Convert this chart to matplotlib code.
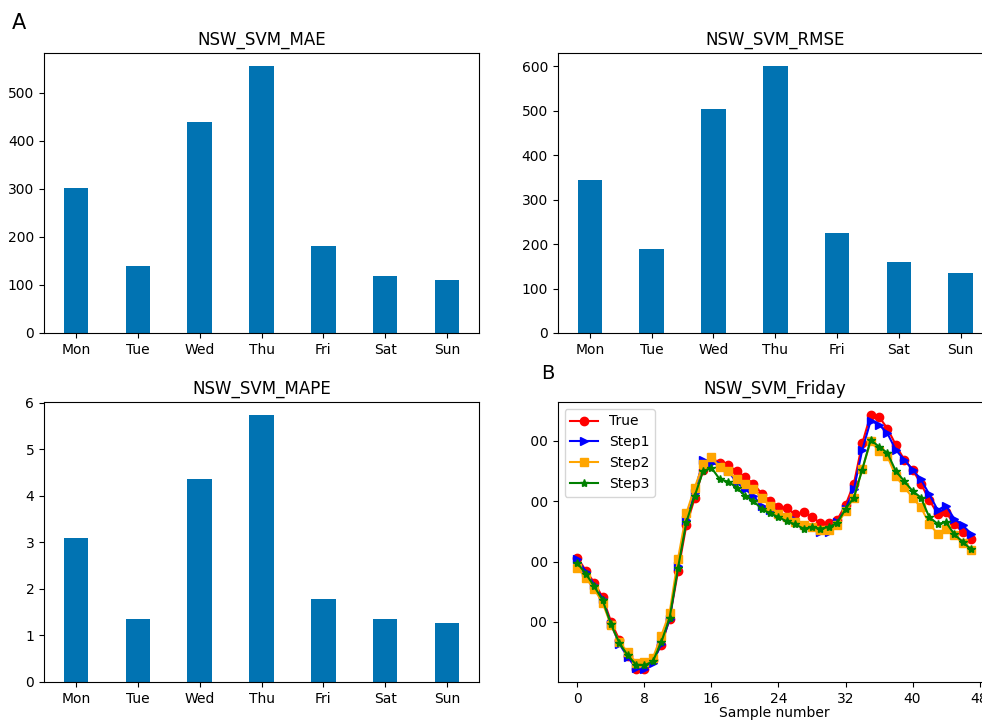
import matplotlib
matplotlib.use('Agg')
import matplotlib.pyplot as plt
from matplotlib.patches import Rectangle

# 星期
days = ['Mon', 'Tue', 'Wed', 'Thu', 'Fri', 'Sat', 'Sun']

# 每天的誤差
mae = [302, 139, 439, 555, 182, 118, 110]
rmse = [345, 188, 504, 600, 226, 159, 134]
mape = [3.10, 1.36, 4.37, 5.73, 1.78, 1.36, 1.26]

# 週五的負載曲線 (48 個樣本)
true_load = [8063, 7850, 7650, 7410, 7005, 6700, 6440, 6225, 6225, 6360,
             6610, 7045, 7835, 8600, 9050, 9525, 9690, 9635, 9595, 9500,
             9400, 9290, 9125, 9005, 8910, 8880, 8780, 8815, 8735, 8640,
             8635, 8690, 8935, 9290, 9960, 10435, 10400, 10205, 9935, 9690,
             9525, 9290, 9020, 8790, 8815, 8615, 8490, 8380]
step1 = [8036, 7834, 7616, 7381, 6961, 6634, 6416, 6236, 6214, 6323,
         6634, 7043, 7927, 8680, 9143, 9690, 9634, 9607, 9500, 9310,
         9200, 9090, 8925, 8850, 8800, 8730, 8680, 8600, 8570, 8490,
         8490, 8650, 8870, 9200, 9850, 10330, 10270, 10125, 9850, 9690,
         9525, 9360, 9115, 8855, 8925, 8705, 8600, 8460]
step2 = [7900, 7725, 7545, 7316, 6945, 6661, 6498, 6323, 6334, 6399,
         6770, 7152, 8041, 8800, 9225, 9618, 9727, 9565, 9500, 9360,
         9280, 9200, 9060, 8925, 8790, 8735, 8650, 8610, 8570, 8525,
         8515, 8610, 8835, 9060, 9530, 9990, 9835, 9745, 9415, 9235,
         9060, 8900, 8625, 8460, 8545, 8435, 8300, 8190]
step3 = [7971, 7796, 7589, 7360, 6961, 6650, 6443, 6290, 6279, 6345,
         6661, 7065, 7889, 8653, 9089, 9498, 9553, 9360, 9325, 9225,
         9090, 9005, 8870, 8800, 8735, 8665, 8615, 8545, 8570, 8545,
         8570, 8635, 8870, 9060, 9525, 10015, 9905, 9800, 9500, 9335,
         9170, 9060, 8735, 8625, 8650, 8450, 8325, 8200]
samples = list(range(len(true_load)))

bar_color = '#0173B2'

fig = plt.figure(figsize=(9.82, 7.2), dpi=100)

# 上面兩張長條圖
ax1 = fig.add_axes([0.0448, 0.5375, 0.443, 0.389])
ax1.bar(days, mae, width=0.4, color=bar_color)
ax1.set_title('NSW_SVM_MAE', fontsize=12)

ax2 = fig.add_axes([0.568, 0.5375, 0.443, 0.389])
ax2.bar(days, rmse, width=0.4, color=bar_color)
ax2.set_title('NSW_SVM_RMSE', fontsize=12)

# 左下 MAPE
ax3 = fig.add_axes([0.0448, 0.0528, 0.443, 0.389])
ax3.bar(days, mape, width=0.4, color=bar_color)
ax3.set_title('NSW_SVM_MAPE', fontsize=12)

# 右下 週五預測
ax4 = fig.add_axes([0.568, 0.0528, 0.441, 0.389])
ax4.plot(samples, true_load, color='red', marker='o', label='True')
ax4.plot(samples, step1, color='blue', marker='>', label='Step1')
ax4.plot(samples, step2, color='orange', marker='s', label='Step2')
ax4.plot(samples, step3, color='green', marker='*', label='Step3')
ax4.set_xticks([0, 8, 16, 24, 32, 40, 48])
ax4.set_yticks([7000, 8000, 9000, 10000])
ax4.set_title('NSW_SVM_Friday', fontsize=12)
ax4.set_xlabel('Sample number', labelpad=0)
ax4.legend(loc='upper left')

# 原圖左邊的刻度文字被裁掉
fig.patches.append(Rectangle((0.499, 0.04), 0.042, 0.42, transform=fig.transFigure,
                             facecolor='white', edgecolor='none', zorder=5))

fig.text(0.012, 0.968, 'A', fontsize=15, va='center')
fig.text(0.551, 0.481, 'B', fontsize=14, va='center')

plt.savefig('out.png', dpi=100)
